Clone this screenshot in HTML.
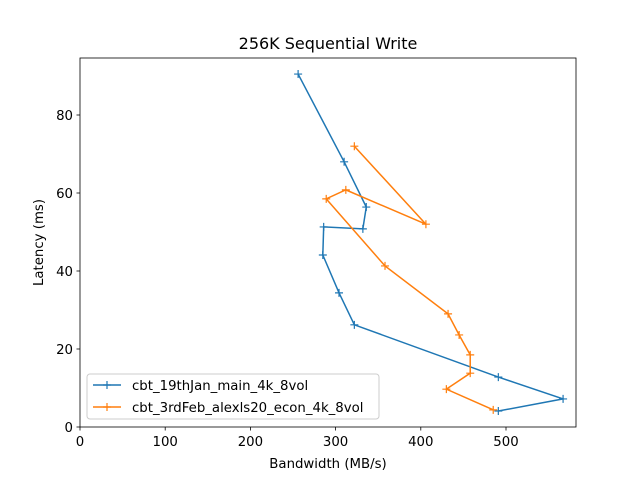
<!DOCTYPE html>
<html><head><meta charset="utf-8"><style>
body{margin:0;background:#fff;}
svg{display:block;font-family:"DejaVu Sans","Liberation Sans",sans-serif;}
</style></head><body>
<svg id="chart" width="640" height="480">
<rect width="640" height="480" fill="#fff"/>
<text x="328" y="49" text-anchor="middle" font-size="16">256K  Sequential Write</text>
<g id="axes"></g>
<g id="series"></g>
<rect x="80" y="58" width="496" height="369" fill="none" stroke="#000" stroke-width="0.8"/>
<text x="328" y="468" text-anchor="middle" font-size="13.3">Bandwidth (MB/s)</text>
<text transform="translate(43,242.5) rotate(-90)" text-anchor="middle" font-size="13.3">Latency (ms)</text>
<g>
<rect x="87" y="374" width="292" height="45" rx="3" fill="#fff" fill-opacity="0.8" stroke="#ccc"/>
<g>
<line x1="93" y1="385" x2="121" y2="385" stroke="#1f77b4" stroke-width="1.5"/>
<path d="M103,385h8M107,381v8" stroke="#1f77b4" stroke-width="1.2"/>
<text x="132" y="390" font-size="13.3">cbt_19thJan_main_4k_8vol</text></g>
<g>
<line x1="93" y1="407" x2="121" y2="407" stroke="#ff7f0e" stroke-width="1.5"/>
<path d="M103,407h8M107,403v8" stroke="#ff7f0e" stroke-width="1.2"/>
<text x="132" y="412" font-size="13.3">cbt_3rdFeb_alexls20_econ_4k_8vol</text></g>
</g>
</svg>
<script>
const xTicks=[0,100,200,300,400,500];
const yTicks=[0,20,40,60,80];
const blueX=[256,310,336,332,286,285,304,322,491,567,491];
const blueY=[90.5,68,56.4,50.8,51.3,44.1,34.4,26.2,12.8,7.2,4.1];
const orangeX=[322,406,312,289,358,432,445,458,458,430,485];
const orangeY=[72,52,60.8,58.5,41.3,29,23.6,18.5,13.8,9.7,4.4];
const NS="http://www.w3.org/2000/svg";
const x=v=>80+v*0.852, y=v=>427-v*3.9;
const ax=document.getElementById('axes');
function mk(t,a,p){const e=document.createElementNS(NS,t);for(const k in a)e.setAttribute(k,a[k]);p.appendChild(e);return e;}
xTicks.forEach(t=>{
 const l=mk('line',{x1:x(t),x2:x(t),y1:427,y2:430.5,stroke:'#000','stroke-width':0.8},ax);
 
 
 const s=mk('text',{x:x(t),y:446,'text-anchor':'middle','font-size':13.3},ax);s.textContent=t;
 
 
});
yTicks.forEach(t=>{
 const l=mk('line',{x1:76.5,x2:80,y1:y(t),y2:y(t),stroke:'#000','stroke-width':0.8},ax);
 
 
 const s=mk('text',{x:73,y:y(t)+5,'text-anchor':'end','font-size':13.3},ax);s.textContent=t;
 
 
});
const sg=document.getElementById('series');
function series(xs,ys,c,name){
 const g=mk('g',{},sg);
 
 
 mk('polyline',{points:xs.map((v,i)=>x(v)+','+y(ys[i])).join(' '),fill:'none',stroke:c,'stroke-width':1.5},g);
 xs.forEach((v,i)=>{
  const p=mk('path',{d:`M${x(v)-4},${y(ys[i])}h8M${x(v)},${y(ys[i])-4}v8`,stroke:c,'stroke-width':1.2},g);
  
  
 });
}
series(blueX,blueY,'#1f77b4','series-19thjan');
series(orangeX,orangeY,'#ff7f0e','series-3rdfeb');
</script>
</body></html>
